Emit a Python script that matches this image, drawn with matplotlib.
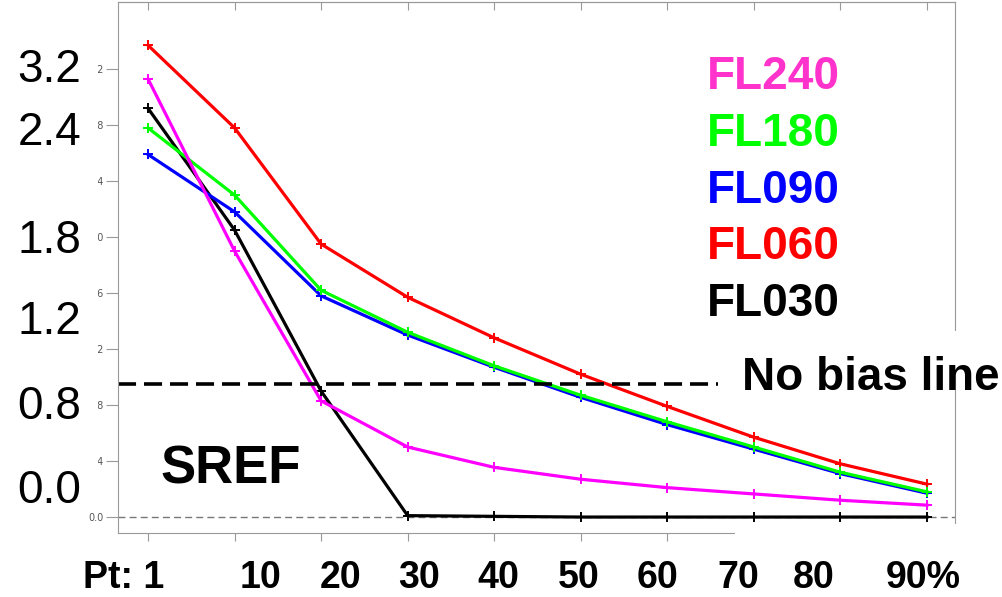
import numpy as np
import matplotlib
matplotlib.use('Agg')
import matplotlib.pyplot as plt
from matplotlib.patches import Rectangle

W, H = 1003, 597

# percentile points along the x axis
pt_labels = ['1', '10', '20', '30', '40', '50', '60', '70', '80', '90']

# bias per flight level
fl240 = [3.13, 1.90, 0.83, 0.50, 0.355, 0.27, 0.21, 0.165, 0.12, 0.085]
fl180 = [2.78, 2.30, 1.62, 1.32, 1.08, 0.87, 0.68, 0.50, 0.32, 0.18]
fl090 = [2.59, 2.18, 1.58, 1.30, 1.07, 0.855, 0.66, 0.485, 0.31, 0.17]
fl060 = [3.37, 2.78, 1.95, 1.57, 1.28, 1.02, 0.79, 0.57, 0.38, 0.235]
fl030 = [2.92, 2.05, 0.90, 0.01, 0.005, 0.0, 0.0, 0.0, 0.0, 0.0]

levels = ['FL240', 'FL180', 'FL090', 'FL060', 'FL030']
line_colors = ['#ff00ff', '#00ff00', '#0000ff', '#ff0000', '#000000']
text_colors = ['#ff33cc', '#00ff00', '#0000ff', '#ff0000', '#000000']

no_bias = 0.95
ytick_vals = np.arange(0, 3.21, 0.4)
big_ylabels = ['3.2', '2.4', '1.8', '1.2', '0.8', '0.0']
bottom_labels = ['Pt: 1', '10', '20', '30', '40', '50', '60', '70', '80', '90%']


def fx(x):
    return x / W


def fy(y):
    return 1 - y / H


def cover(x0, y0, x1, y1):
    r = Rectangle((fx(x0), fy(y1)), (x1 - x0) / W, (y1 - y0) / H,
                  transform=fig.transFigure, facecolor='white',
                  edgecolor='none', zorder=2)
    fig.add_artist(r)


fig = plt.figure(figsize=(W / 100, H / 100), dpi=100)
ax = fig.add_axes([fx(118), fy(533), (955 - 118) / W, (533 - 2) / H])

x = np.arange(len(pt_labels))
series = dict(zip(levels, [fl240, fl180, fl090, fl060, fl030]))
for name in ['FL030', 'FL060', 'FL090', 'FL180', 'FL240']:
    col = line_colors[levels.index(name)]
    ax.plot(x, series[name], color=col, lw=2.3, marker='+', ms=7, mew=1.4)

ax.axhline(0, color='#777777', lw=1, ls=(0, (5, 3)), zorder=1)
ax.axhline(no_bias, xmax=0.717, color='black', lw=2.6, dashes=(5, 2.2))

ax.set_xlim(-0.3466, 9.324)
ax.set_ylim(-0.114, 3.679)

ax.set_xticks(x)
ax.set_xticklabels([])
ax.set_yticks(ytick_vals)
ax.set_yticklabels(['%.1f' % v for v in ytick_vals], fontsize=7, color='#555555')
ax.tick_params(axis='x', direction='out', length=6, width=0.8, color='#999999')
ax.tick_params(axis='y', direction='out', length=9, width=0.8, color='#999999', pad=1)
for sp in ax.spines.values():
    sp.set_color('#999999')
    sp.set_linewidth(0.8)

top = ax.secondary_xaxis('top')
top.set_xticks(x)
top.set_xticklabels([])
top.tick_params(direction='in', length=6, width=0.8, color='#999999')
top.spines['top'].set_color('#999999')
top.spines['top'].set_linewidth(0.8)

# white panels behind the big overlay labels
cover(0, 40, 98, 505)
cover(735, 524, 962, 597)
cover(725, 331, 1003, 372)

big = dict(family=['Liberation Sans', 'DejaVu Sans'])
for s, yb in zip(big_ylabels, [82, 145, 253, 334, 419, 503]):
    fig.text(fx(81), fy(yb), s, ha='right', va='baseline', fontsize=33, **big)

for i, (name, col) in enumerate(zip(levels, text_colors)):
    fig.text(fx(707), fy(89 + 56.8 * i), name, color=col, ha='left',
             va='baseline', fontsize=33, fontweight='bold', **big)

fig.text(fx(160), fy(484), 'SREF', ha='left', va='baseline', fontsize=38,
         fontweight='bold', **big)
fig.text(fx(742), fy(390), 'No bias line', ha='left', va='baseline',
         fontsize=33, fontweight='bold', **big)

for s, xl in zip(bottom_labels, [83, 240, 320, 398, 477, 558, 637, 717, 793, 886]):
    fig.text(fx(xl), fy(596), s, ha='left', va='bottom', fontsize=27,
             fontweight='bold', **big)

fig.savefig('out.png', dpi=100)
